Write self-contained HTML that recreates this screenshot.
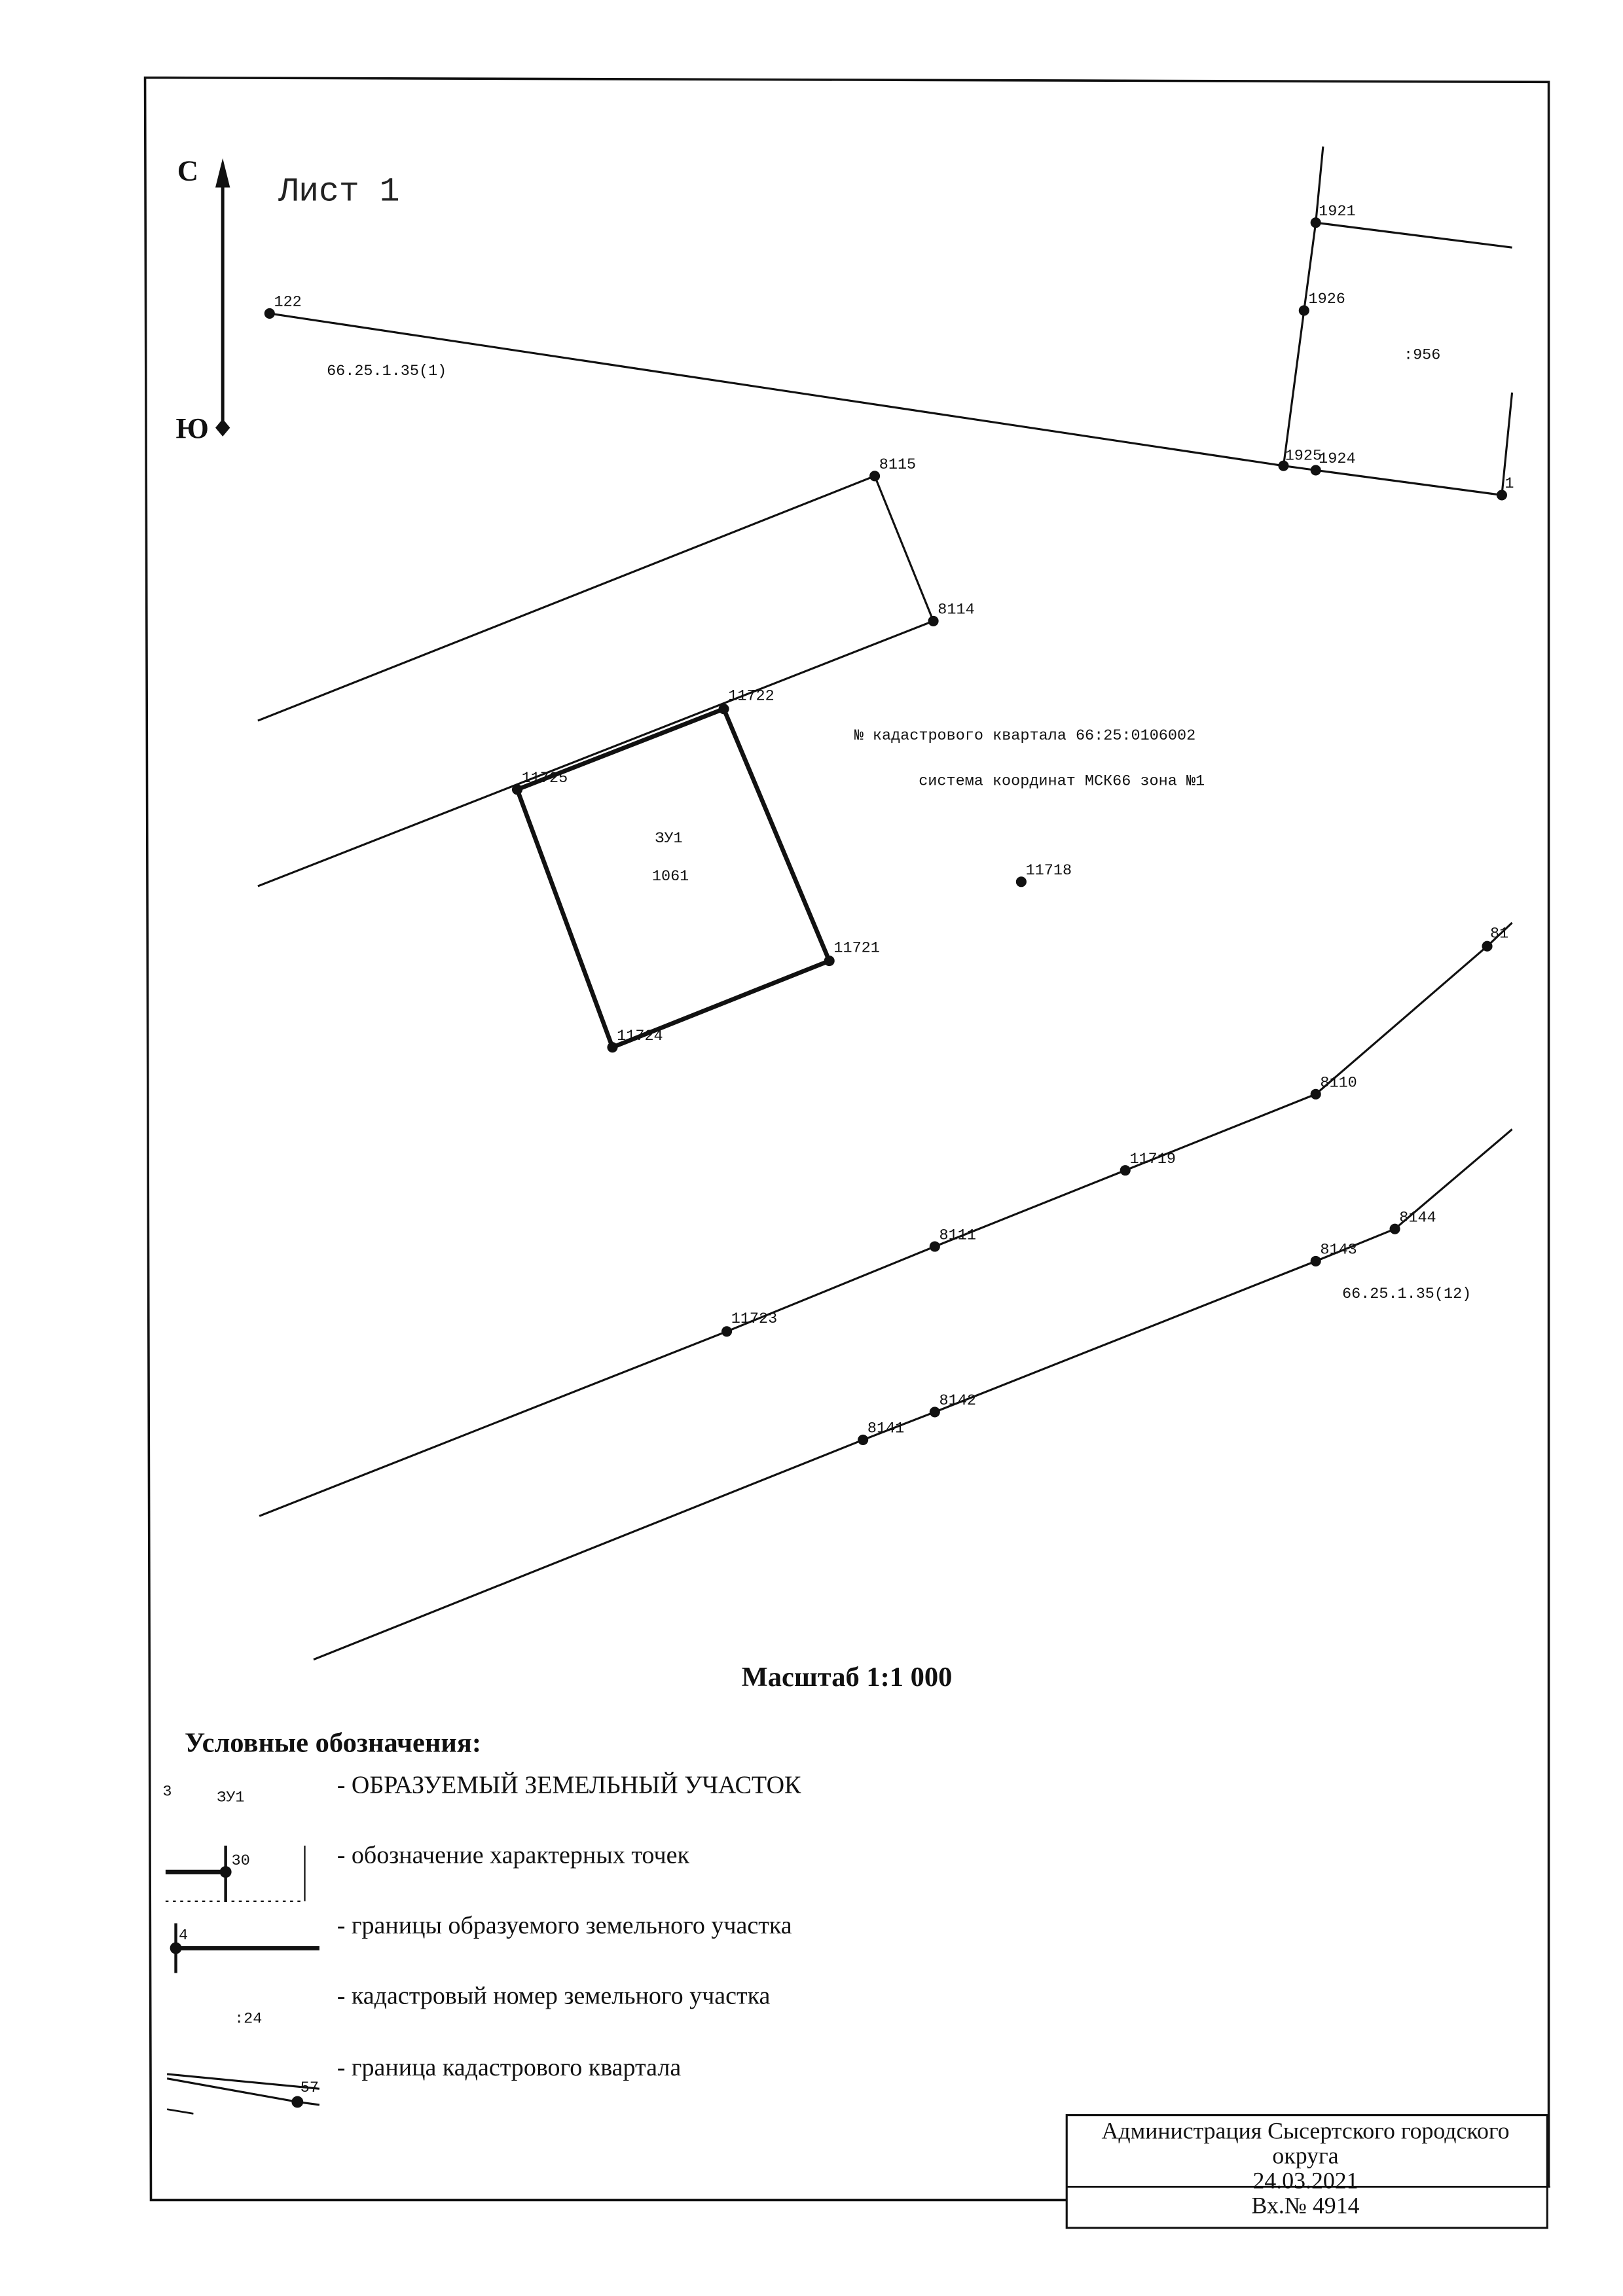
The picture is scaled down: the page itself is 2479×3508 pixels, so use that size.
<!DOCTYPE html>
<html><head><meta charset="utf-8"><style>
html,body{margin:0;padding:0;background:#fff;width:2479px;height:3508px;overflow:hidden}
svg{display:block}
.m{font-family:"Liberation Mono",monospace;font-size:10.5px;fill:#111}
.s{font-family:"Liberation Serif",serif;fill:#111}
</style></head><body>
<svg width="2479" height="3508" viewBox="0 0 1107.7 1567.5" preserveAspectRatio="none" xmlns="http://www.w3.org/2000/svg">
<rect width="1110" height="1570" fill="#fff"/>
<g fill="none" stroke="#111">
<polyline points="1057,1493 1057,56 99,53 103,1502 728,1502" stroke-width="1.6"/>
<rect x="728" y="1444" width="328" height="77" stroke-width="1.4"/>
<line x1="728" y1="1493" x2="1058" y2="1493" stroke-width="1.2"/>
<line x1="152" y1="115" x2="152" y2="292" stroke-width="2.2"/>
<polyline points="184,214 876,318 898,321 1025,338" stroke-width="1.4"/>
<polyline points="903,100 898,152 890,212 876,318" stroke-width="1.4"/>
<line x1="898" y1="152" x2="1032" y2="169" stroke-width="1.4"/>
<line x1="1032" y1="268" x2="1025" y2="338" stroke-width="1.4"/>
<polyline points="176,492 597,325 637,424 176,605" stroke-width="1.4"/>
<polygon points="494,484 353,539 418,715 566,656" stroke-width="3"/>
<polyline points="177,1035 496,909 638,851 768,799 898,747 1015,646 1032,630" stroke-width="1.4"/>
<polyline points="214,1133 589,983 638,964 898,861 952,839 1032,771" stroke-width="1.4"/>
<line x1="113" y1="1278" x2="154" y2="1278" stroke-width="3"/>
<line x1="154" y1="1260" x2="154" y2="1298" stroke-width="2"/>
<line x1="208" y1="1260" x2="208" y2="1298" stroke-width="1"/>
<line x1="113" y1="1298" x2="208" y2="1298" stroke-width="1" stroke-dasharray="2,3"/>
<line x1="120" y1="1330" x2="218" y2="1330" stroke-width="3"/>
<line x1="120" y1="1313" x2="120" y2="1347" stroke-width="2"/>
<line x1="114" y1="1416" x2="218" y2="1426" stroke-width="1.4"/>
<polyline points="114,1419 203,1435 218,1437" stroke-width="1.4"/>
<line x1="114" y1="1440" x2="132" y2="1443" stroke-width="1.2"/>
</g>
<polygon points="152,108 147,128 157,128" fill="#111"/>
<polygon points="152,286 157,292 152,298 147,292" fill="#111"/>
<g fill="#111">
<circle cx="184" cy="214" r="3.6"/><circle cx="876" cy="318" r="3.6"/><circle cx="898" cy="321" r="3.6"/>
<circle cx="1025" cy="338" r="3.6"/><circle cx="898" cy="152" r="3.6"/><circle cx="890" cy="212" r="3.6"/>
<circle cx="597" cy="325" r="3.6"/><circle cx="637" cy="424" r="3.6"/>
<circle cx="494" cy="484" r="3.6"/><circle cx="353" cy="539" r="3.6"/><circle cx="418" cy="715" r="3.6"/><circle cx="566" cy="656" r="3.6"/>
<circle cx="697" cy="602" r="3.6"/>
<circle cx="496" cy="909" r="3.6"/><circle cx="638" cy="851" r="3.6"/><circle cx="768" cy="799" r="3.6"/><circle cx="898" cy="747" r="3.6"/><circle cx="1015" cy="646" r="3.6"/>
<circle cx="589" cy="983" r="3.6"/><circle cx="638" cy="964" r="3.6"/><circle cx="898" cy="861" r="3.6"/><circle cx="952" cy="839" r="3.6"/>
<circle cx="154" cy="1278" r="4"/><circle cx="120" cy="1330" r="4"/><circle cx="203" cy="1435" r="4"/>
</g>
<text class="s" x="121" y="123" font-size="20" font-weight="bold">С</text>
<text class="s" x="120" y="299" font-size="20" font-weight="bold">Ю</text>
<text x="190" y="137" font-family="Liberation Mono,monospace" font-size="23" fill="#222">Лист 1</text>
<g class="m">
<text x="187" y="209">122</text>
<text x="223" y="256">66.25.1.35(1)</text>
<text x="900" y="147">1921</text>
<text x="893" y="207">1926</text>
<text x="958" y="245">:956</text>
<text x="877" y="314">1925</text>
<text x="900" y="316">1924</text>
<text x="1027" y="333">1</text>
<text x="600" y="320">8115</text>
<text x="640" y="419">8114</text>
<text x="497" y="478">11722</text>
<text x="356" y="534">11725</text>
<text x="447" y="575">ЗУ1</text>
<text x="445" y="601">1061</text>
<text x="569" y="650">11721</text>
<text x="421" y="710">11724</text>
<text x="583" y="505">№ кадастрового квартала 66:25:0106002</text>
<text x="627" y="536">система координат МСК66 зона №1</text>
<text x="700" y="597">11718</text>
<text x="1017" y="640">81</text>
<text x="901" y="742">8110</text>
<text x="771" y="794">11719</text>
<text x="641" y="846">8111</text>
<text x="499" y="903">11723</text>
<text x="901" y="856">8143</text>
<text x="955" y="834">8144</text>
<text x="916" y="886">66.25.1.35(12)</text>
<text x="641" y="959">8142</text>
<text x="592" y="978">8141</text>
<text x="111" y="1226">3</text>
<text x="148" y="1230">ЗУ1</text>
<text x="158" y="1273">30</text>
<text x="122" y="1324">4</text>
<text x="160" y="1381">:24</text>
<text x="205" y="1428">57</text>
</g>
<text class="s" x="578" y="1151" font-size="19" font-weight="bold" text-anchor="middle">Масштаб 1:1 000</text>
<text class="s" x="126" y="1196" font-size="19" font-weight="bold">Условные обозначения:</text>
<g class="s" font-size="17">
<text x="230" y="1224">- ОБРАЗУЕМЫЙ ЗЕМЕЛЬНЫЙ УЧАСТОК</text>
<text x="230" y="1272">- обозначение характерных точек</text>
<text x="230" y="1320">- границы образуемого земельного участка</text>
<text x="230" y="1368">- кадастровый номер земельного участка</text>
<text x="230" y="1417">- граница кадастрового квартала</text>
</g>
<g class="s" font-size="16" text-anchor="middle">
<text x="891" y="1460">Администрация Сысертского городского</text>
<text x="891" y="1477">округа</text>
<text x="891" y="1494">24.03.2021</text>
<text x="891" y="1511">Вх.№ 4914</text>
</g>
</svg>
</body></html>
